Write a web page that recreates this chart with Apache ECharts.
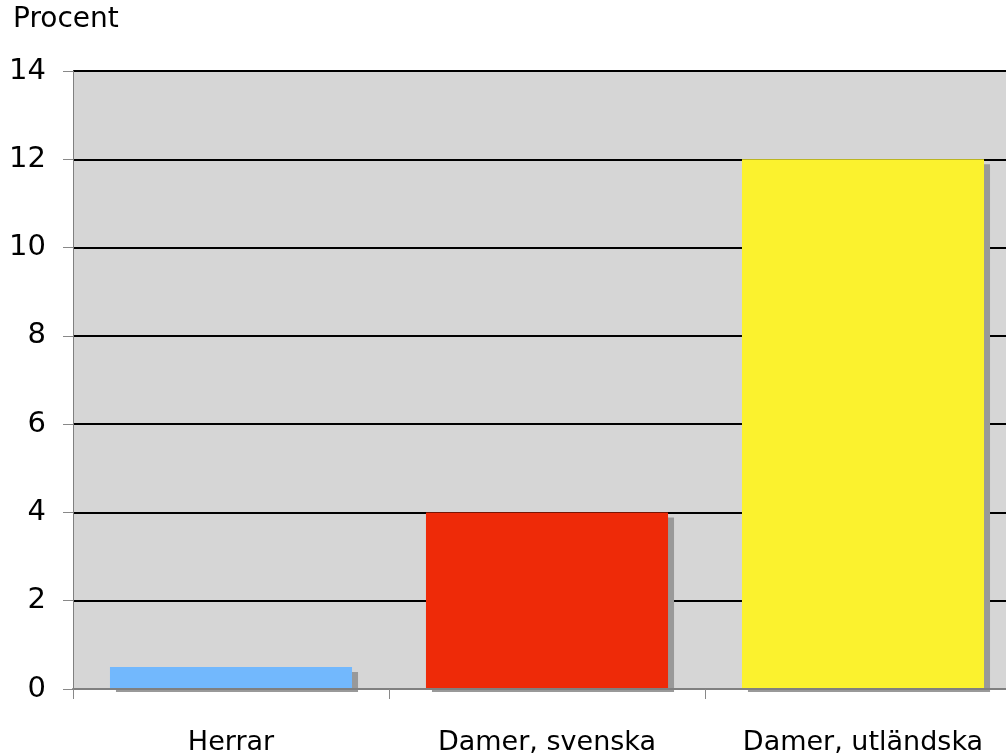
<!DOCTYPE html>
<html>
<head>
<meta charset="utf-8">
<script src="https://cdn.jsdelivr.net/npm/echarts@6/dist/echarts.min.js"></script>
<style>
  html, body { margin: 0; padding: 0; background: #fff; overflow: hidden; }
  /* plot area runs a bit past the right edge of the picture, like the original */
  #chart { width: 1021px; height: 756px; }
</style>
</head>
<body>
<div id="chart"></div>
<script>
const categories = ['Herrar', 'Damer, svenska', 'Damer, utländska'];
const values = [0.5, 4, 12];
const barColors = ['#72b8fd', '#ee2a08', '#fbf22e'];

const font = '"DejaVu Sans", sans-serif';
const chart = echarts.init(document.getElementById('chart'));

chart.setOption({
  animation: false,
  backgroundColor: '#fff',
  grid: {
    left: 73, right: 0, top: 71, bottom: 65,
    show: true, backgroundColor: '#d6d6d6', borderWidth: 0
  },
  graphic: [
    {
      type: 'text', left: 13, top: 6,
      style: { text: 'Procent', font: '28px ' + font, fill: '#000' }
    },
    {
      // hides the bar shadows below the x axis
      type: 'rect', z: 5, silent: true,
      shape: { x: 73, y: 692, width: 948, height: 8 },
      style: { fill: '#fff' }
    }
  ],
  xAxis: {
    type: 'category',
    data: categories,
    z: 10,
    axisLine: { lineStyle: { color: '#808080', width: 2 } },
    axisTick: { show: true, length: 10, lineStyle: { color: '#888', width: 1 } },
    axisLabel: { color: '#000', fontSize: 27, fontFamily: font, margin: 40 },
    splitLine: { show: false }
  },
  yAxis: {
    type: 'value',
    min: 0, max: 14, interval: 2,
    axisLine: { show: true, lineStyle: { color: '#808080', width: 1 } },
    axisTick: { show: true, length: 10, lineStyle: { color: '#888', width: 1 } },
    axisLabel: { color: '#000', fontSize: 29, fontFamily: font, margin: 27 },
    splitLine: { show: true, lineStyle: { color: '#000', width: 2 } }
  },
  series: [{
    type: 'bar',
    barWidth: '76.6%',
    data: values.map((v, i) => ({
      value: v,
      itemStyle: { color: barColors[i] }
    })),
    itemStyle: {
      shadowColor: '#999',
      shadowBlur: 0,
      shadowOffsetX: 6,
      shadowOffsetY: 5
    }
  }]
});
</script>
</body>
</html>
